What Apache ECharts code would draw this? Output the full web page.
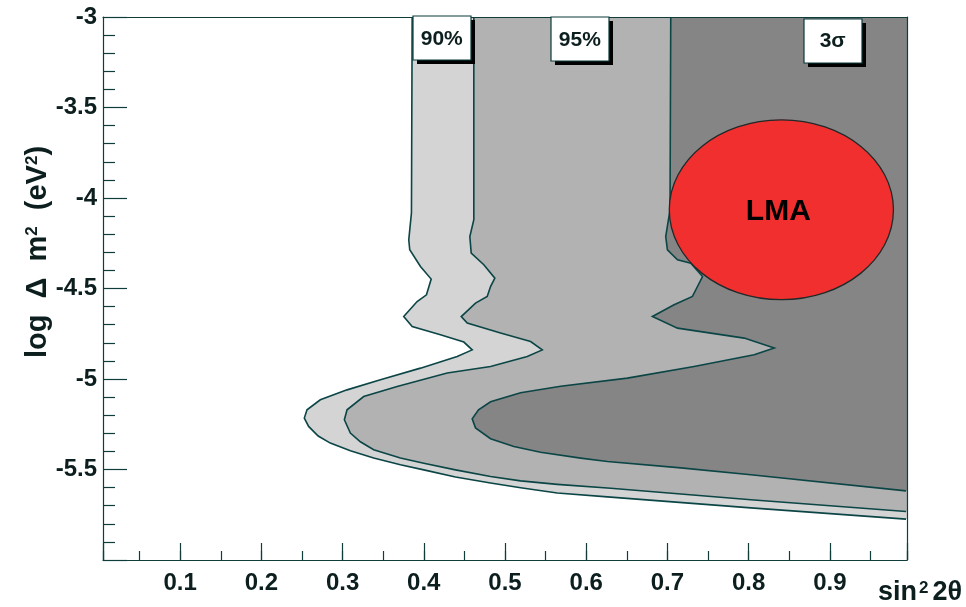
<!DOCTYPE html>
<html><head><meta charset="utf-8">
<script src="https://cdn.jsdelivr.net/npm/echarts@6/dist/echarts.min.js"></script>
<style>html,body{margin:0;padding:0;background:#fff}#c{width:966px;height:607px}</style>
</head><body><div id="c"></div>
<script>
// ---- data (sin^2 2theta, log dm^2) ----
const xRange = [0.005, 0.995];
const yRange = [-6, -3];

const cl90X = [0.3857,0.3848,0.3815,0.3827,0.3959,0.4091,0.4033,0.3918,0.3753,0.3857,0.4205,0.4493,0.4596,0.4411,0.3959,0.3466,0.3055,0.2726,0.2562,0.2529,0.2582,0.2700,0.2849,0.3096,0.3383,0.3712,0.4000,0.4390,0.4822,0.5192,0.5644,0.6261,0.8027,0.9938];
const cl90Y = [-3.000,-4.082,-4.231,-4.286,-4.378,-4.448,-4.535,-4.572,-4.655,-4.710,-4.756,-4.796,-4.839,-4.876,-4.940,-5.004,-5.060,-5.115,-5.170,-5.216,-5.262,-5.315,-5.354,-5.397,-5.437,-5.474,-5.502,-5.541,-5.575,-5.601,-5.630,-5.651,-5.712,-5.774];

const cl95X = [0.4616,0.4616,0.4567,0.4584,0.4739,0.4875,0.4822,0.4781,0.4637,0.4461,0.4535,0.4945,0.5315,0.5459,0.5274,0.4822,0.4288,0.3672,0.3260,0.3055,0.3022,0.3096,0.3219,0.3383,0.3712,0.4000,0.4390,0.4822,0.5192,0.5644,0.6301,0.8027,0.9938];
const cl95Y = [-3.000,-4.120,-4.213,-4.304,-4.369,-4.443,-4.489,-4.544,-4.581,-4.655,-4.691,-4.746,-4.793,-4.839,-4.876,-4.931,-4.967,-5.041,-5.097,-5.170,-5.225,-5.299,-5.347,-5.391,-5.436,-5.465,-5.502,-5.539,-5.563,-5.582,-5.604,-5.667,-5.732];

const cl3sX = [0.7041,0.7032,0.6979,0.7000,0.7124,0.7288,0.7432,0.7370,0.7308,0.7082,0.6815,0.7124,0.7945,0.8315,0.8068,0.7328,0.6507,0.5685,0.5192,0.4822,0.4674,0.4596,0.4637,0.4822,0.5109,0.5438,0.5931,0.6261,0.7165,0.8027,0.9938];
const cl3sY = [-3.000,-4.065,-4.213,-4.286,-4.341,-4.360,-4.434,-4.489,-4.544,-4.590,-4.655,-4.719,-4.774,-4.829,-4.866,-4.931,-4.995,-5.040,-5.076,-5.126,-5.170,-5.220,-5.270,-5.330,-5.373,-5.405,-5.437,-5.456,-5.491,-5.529,-5.618];

const lmaCenter = [0.8403, -4.065];
const lmaRadius = [0.138, 0.497];

const boxText = ['90%', '95%', '3σ'];
const boxX = [0.4221, 0.5922, 0.9035];
const boxY = [-3.115, -3.122, -3.130];

// ---- styles ----
const AX = '#103c3c';
const TXT = '#0c1e1e';
const LINE = '#0b4545';
const F = '"Liberation Sans", Arial, Helvetica, sans-serif';

function region(xs, ys, fill) {
  return {
    type: 'custom', coordinateSystem: 'cartesian2d', xAxisIndex: 0, yAxisIndex: 0,
    clip: true, silent: true, z: 2,
    data: [[xs[0], ys[0]]],
    renderItem: function (params, api) {
      const pts = xs.map((x, i) => api.coord([x, ys[i]]));
      const lastY = ys[ys.length - 1];
      const poly = pts.concat([api.coord([xRange[1], lastY]), api.coord([xRange[1], yRange[1]])]);
      return { type: 'group', children: [
        { type: 'polygon', shape: { points: poly }, style: { fill: fill, stroke: null } },
        { type: 'polyline', shape: { points: pts }, style: { fill: null, stroke: LINE, lineWidth: 1.6 } }
      ]};
    }
  };
}

const chart = echarts.init(document.getElementById('c'), null, { renderer: 'canvas' });
const baseX = { type: 'value', min: xRange[0], max: xRange[1], splitLine: { show: false }, z: 10 };
const supStyle = { fontSize: 17, fontWeight: 'bold', fill: TXT, color: TXT, fontFamily: F, verticalAlign: 'top' };
chart.setOption({
  animation: false,
  backgroundColor: '#fff',
  grid: { left: 103, right: 59, top: 17, bottom: 47, outerBoundsMode: 'none', containLabel: false },
  graphic: [
    { type: 'text', x: 962, y: 593, z: 20, silent: true,
      style: { text: '{a|sin}{s|2}{a|2θ}', align: 'right', verticalAlign: 'middle',
        rich: {
          a: { fontSize: 27, fontWeight: 'bold', fill: TXT, color: TXT, fontFamily: F },
          s: Object.assign({}, supStyle, { padding: [0, 4, 0, 2] })
        } } },
    { type: 'text', x: 38, y: 252, rotation: Math.PI / 2, z: 20, silent: true,
      style: { text: '{t|log  Δ  m}{s|2}{t|  (eV}{s|2}{t|)}', align: 'center', verticalAlign: 'middle',
        rich: {
          t: { fontSize: 29, fontWeight: 'bold', fill: TXT, color: TXT, fontFamily: F },
          s: supStyle
        } } }
  ],
  xAxis: [
    Object.assign({}, baseX, {
      position: 'bottom', splitNumber: 10, minInterval: 0.1, maxInterval: 0.1,
      axisLine: { show: true, lineStyle: { color: AX, width: 1.2 } },
      axisTick: { show: true, inside: true, length: 17, lineStyle: { color: AX, width: 1.2 } },
      axisLabel: { show: true, margin: 11, fontSize: 24, fontWeight: 'bold', color: TXT, fontFamily: F,
        formatter: function (v) { return Math.abs(v * 10 - Math.round(v * 10)) < 1e-6 ? v.toFixed(1) : ''; } }
    }),
    Object.assign({}, baseX, {
      position: 'bottom', splitNumber: 20, minInterval: 0.05, maxInterval: 0.05,
      axisLine: { show: false },
      axisTick: { show: true, inside: true, length: 9, lineStyle: { color: AX, width: 1.2 } },
      axisLabel: { show: false }
    }),
    Object.assign({}, baseX, {
      position: 'top',
      axisLine: { show: true, lineStyle: { color: AX, width: 1.2 } },
      axisTick: { show: false }, axisLabel: { show: false }
    })
  ],
  yAxis: [
    {
      type: 'value', min: yRange[0], max: yRange[1], interval: 0.5, z: 10,
      axisLine: { show: true, lineStyle: { color: AX, width: 1.2 } },
      axisTick: { show: true, inside: true, length: 24, lineStyle: { color: AX, width: 1.2 } },
      minorTick: { show: true, splitNumber: 5, length: 12, lineStyle: { color: AX, width: 1.2 } },
      splitLine: { show: false }, minorSplitLine: { show: false },
      axisLabel: { showMinLabel: false, margin: 6, fontSize: 24, fontWeight: 'bold', color: TXT, fontFamily: F }
    },
    {
      type: 'value', min: yRange[0], max: yRange[1], position: 'right', z: 10,
      axisLine: { show: true, lineStyle: { color: AX, width: 1.2 } },
      axisTick: { show: false }, axisLabel: { show: false }, splitLine: { show: false }
    }
  ],
  series: [
    region(cl90X, cl90Y, '#d4d4d4'),
    region(cl95X, cl95Y, '#b2b2b2'),
    region(cl3sX, cl3sY, '#858585'),
    {
      type: 'custom', coordinateSystem: 'cartesian2d', clip: true, silent: true, z: 3,
      data: [lmaCenter],
      renderItem: function (params, api) {
        const c = api.coord(lmaCenter);
        const s = api.size(lmaRadius);
        return { type: 'group', children: [
          { type: 'ellipse', shape: { cx: c[0], cy: c[1], rx: s[0], ry: s[1] },
            style: { fill: '#f22f2f', stroke: '#1f2a2a', lineWidth: 1.3 } },
          { type: 'text', x: c[0] - 3, y: c[1] + 2,
            style: { text: 'LMA', fill: '#000', font: 'bold 30px ' + F, align: 'center', verticalAlign: 'middle',
                     textAlign: 'center', textVerticalAlign: 'middle' } }
        ]};
      }
    },
    {
      type: 'custom', coordinateSystem: 'cartesian2d', clip: false, silent: true, z: 12,
      data: boxText.map((t, i) => [boxX[i], boxY[i]]),
      renderItem: function (params, api) {
        const i = params.dataIndex;
        const c = api.coord([boxX[i], boxY[i]]);
        const w = 58, h = 44;
        const x0 = Math.round(c[0] - w / 2), y0 = Math.round(c[1] - h / 2);
        return { type: 'group', children: [
          { type: 'rect', shape: { x: x0 + 4, y: y0 + 4, width: w, height: h }, style: { fill: '#000' } },
          { type: 'rect', shape: { x: x0, y: y0, width: w, height: h }, style: { fill: '#fff', stroke: '#0d3a3a', lineWidth: 1.2 } },
          { type: 'text', x: c[0], y: c[1] + 1,
            style: { text: boxText[i], fill: TXT, font: 'bold 21px ' + F, align: 'center', verticalAlign: 'middle',
                     textAlign: 'center', textVerticalAlign: 'middle' } }
        ]};
      }
    }
  ]
});
</script>
</body></html>
